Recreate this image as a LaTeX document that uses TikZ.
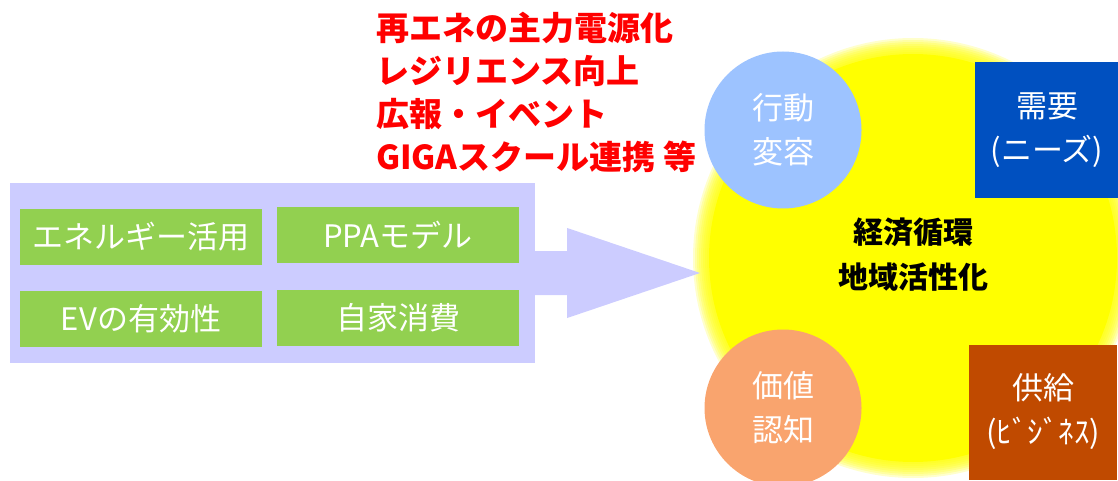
\documentclass[tikz,border=0pt]{standalone}
\usepackage{fontspec}
\newfontfamily\jp{Noto Sans CJK JP}
\usetikzlibrary{positioning}
\definecolor{lav}{HTML}{CCCCFF}
\definecolor{leaf}{HTML}{92D050}
\definecolor{sky}{HTML}{9DC3FF}
\definecolor{peach}{HTML}{F9A46E}
\definecolor{needblue}{HTML}{0050C0}
\definecolor{rust}{HTML}{C04A00}
\definecolor{sun}{rgb}{1,1,0}
\begin{document}
\begin{tikzpicture}[x=1pt,y=-1pt,
	greenbox/.style={fill=leaf,text=white,minimum width=242pt,minimum height=56pt,inner sep=0pt,font=\jp\fontsize{31}{33}\selectfont},
	disc/.style={circle,minimum size=157pt,inner sep=0pt,text=white,align=center,font=\jp\fontsize{31}{44}\selectfont},
	sidebox/.style={minimum height=135pt,inner sep=0pt,text=white,align=center,font=\jp\fontsize{31}{44}\selectfont}]
		\useasboundingbox (0,0) rectangle (1118,481);
		%yellow glow
		\coordinate (glow) at (913,258);
		\foreach \r in {220,218,...,206}
		\fill[sun,opacity=.2] (glow) circle (\r pt);
		\fill[sun] (glow) circle (204pt);
		\node[font=\jp\bfseries\fontsize{30}{45}\selectfont,align=center] (core) at (913,255) {経済循環\\地域活性化};
		%left panel and arrow
		\node[fill=lav,minimum width=525pt,minimum height=180pt,inner sep=0pt] (panel) at (272.5,273) {};
		\coordinate (tip) at (700,273);
		\fill[lav] (panel.east) ++(0,-22) -- ++(32,0) -- ++(0,-23) -- (tip) -- ([shift={(32,45)}]panel.east) -- ++(0,-23) -- ([shift={(0,22)}]panel.east) -- cycle;
		\node[greenbox] (energy) at (141,237) {エネルギー活用};
		\node[greenbox] (ppa) at (398,235) {PPAモデル};
		\node[greenbox] (ev) at (141,319) {EVの有効性};
		\node[greenbox] (self) at (398,318) {自家消費};
		%red notes
		\node[red,anchor=west,inner sep=0pt,align=left,font=\jp\bfseries\fontsize{33}{43}\selectfont] (notes) at (376,92)
		{再エネの主力電源化\\レジリエンス向上\\広報・イベント\\GIGAスクール連携 等};
		%four corners
		\node[disc,fill=sky] (act) at (783,130) {行動\\変容};
		\node[disc,fill=peach] (value) at (783,408) {価値\\認知};
		\node[sidebox,fill=needblue,minimum width=145pt] (need) at (1047,130) {需要\\(ニーズ)};
		\node[sidebox,fill=rust,minimum width=148pt] (supply) at (1043,412) {供給\\(ﾋﾞｼﾞﾈｽ)};
\end{tikzpicture}
\end{document}
